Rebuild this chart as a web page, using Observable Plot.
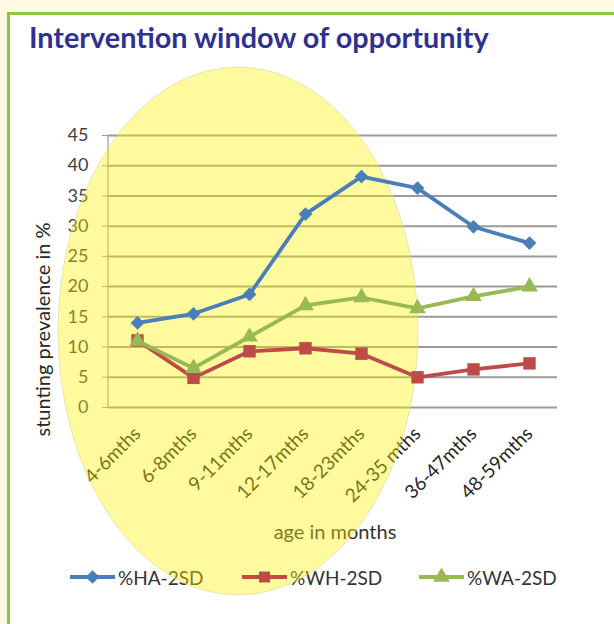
<!DOCTYPE html>
<html>
<head>
<meta charset="utf-8">
<script src="https://cdn.jsdelivr.net/npm/d3@7"></script>
<script src="https://cdn.jsdelivr.net/npm/@observablehq/plot@0.6"></script>
<style>
  html, body { margin: 0; padding: 0; }
  body { width: 614px; height: 624px; overflow: hidden; background: #fefbe2; font-family: Lato, "Open Sans", sans-serif; }
  #wrap { position: relative; width: 614px; height: 624px; }
  #box { position: absolute; left: 7px; top: 12px; width: 640px; height: 660px; background: #fff;
         border-left: 3px solid #8cc63f; border-top: 3px solid #8cc63f; box-sizing: border-box; }
  #title { position: absolute; left: 29px; top: 23px; font: bold 28.8px/1 Lato, sans-serif; color: #2e3192; white-space: nowrap; }
  #chart { position: absolute; left: 0; top: 60px; z-index: 1; }
  .legend { position: absolute; left: 0; top: 565px; width: 614px; height: 24px; }
  .legend.text { z-index: 0; }
  .legend.swatches { z-index: 2; }
  .item { position: absolute; top: 0; height: 24px; display: flex; align-items: center; }
  .item svg { display: block; }
  .item span { font-size: 19px; color: #333; margin-left: 3px; }
  .legend.text svg { visibility: hidden; }
  .legend.swatches span { visibility: hidden; }
</style>
</head>
<body>
<div id="wrap">
  <div id="box"></div>
  <div id="title">Intervention window of opportunity</div>
  <div id="chart"></div>
</div>
<script>
// ---- data ----
const categories = ["4-6mths", "6-8mths", "9-11mths", "12-17mths", "18-23mths", "24-35 mths", "36-47mths", "48-59mths"];
const seriesNames = ["%HA-2SD", "%WH-2SD", "%WA-2SD"];
const haValues = [14.0, 15.5, 18.7, 32.0, 38.2, 36.3, 29.9, 27.2];
const whValues = [11.1, 4.9, 9.3, 9.8, 8.9, 5.0, 6.3, 7.3];
const waValues = [11.0, 6.5, 11.7, 16.9, 18.2, 16.4, 18.4, 20.0];
const seriesColors = ["#4a7ebb", "#be4b48", "#98b954"];
const seriesSymbols = ["diamond2", "square", "triangle"];
const markerRadius = [6.2, 7.0, 6.2];
const yTicks = [0, 5, 10, 15, 20, 25, 30, 35, 40, 45];
const yLabel = "stunting prevalence in %";
const xLabel = "age in months";

const rows = [];
[haValues, whValues, waValues].forEach((vals, s) =>
  vals.forEach((v, i) => rows.push({age: categories[i], value: v, series: seriesNames[s]})));

// decorative "window of opportunity" ellipse (placed relative to the frame), plus the y axis line
function windowEllipse(index, scales, values, dimensions) {
  const {marginLeft, marginTop, marginBottom, height} = dimensions;
  const g = d3.create("svg:g");
  g.append("line")
    .attr("x1", marginLeft).attr("x2", marginLeft)
    .attr("y1", marginTop).attr("y2", height - marginBottom)
    .attr("stroke", "#9a9a9a").attr("stroke-width", 1.2);
  g.append("ellipse")
    .attr("cx", marginLeft + 130).attr("cy", marginTop + 196)
    .attr("rx", 180).attr("ry", 264)
    .attr("fill", "#fff200").attr("fill-opacity", 0.38)
    .attr("stroke", "#d8d4a8").attr("stroke-opacity", 0.6).attr("stroke-width", 1);
  return g.node();
}

const chart = Plot.plot({
  width: 614,
  height: 560,
  marginLeft: 108,
  marginRight: 57,
  marginTop: 75,
  marginBottom: 213,
  style: {background: "transparent", fontFamily: "Lato, sans-serif", fontSize: "16px", color: "#404040"},
  x: {type: "point", domain: categories, padding: 0.5, label: null},
  y: {domain: [0, 45], label: null},
  color: {domain: seriesNames, range: seriesColors},
  symbol: {domain: seriesNames, range: seriesSymbols},
  marks: [
    Plot.ruleY(yTicks, {stroke: "#9a9a9a", strokeWidth: 2}),
    Plot.axisY({ticks: yTicks, tickSize: 6, tickPadding: 14, stroke: "#9a9a9a", fill: "#404040", fontSize: 18}),
    Plot.axisX({tickSize: 0, tickRotate: -45, tickPadding: 23, fill: "#262626", fontSize: 19}),
    Plot.text([yLabel], {frameAnchor: "left", rotate: -90, textAnchor: "middle", lineAnchor: "middle", dx: -65, dy: 58, fontSize: 20, fill: "#262626"}),
    Plot.text([xLabel], {frameAnchor: "bottom", textAnchor: "middle", lineAnchor: "middle", dx: 2, dy: 125, fontSize: 20, fill: "#333"}),
    windowEllipse,
    Plot.line(rows, {x: "age", y: "value", z: "series", stroke: "series", strokeWidth: 3.8}),
    ...seriesNames.map((name, s) =>
      Plot.dot(rows.filter(d => d.series === name), {x: "age", y: "value", fill: "series", symbol: "series", r: markerRadius[s]}))
  ]
});
document.getElementById("chart").appendChild(chart);

// legend (text under the ellipse layer, swatches above it)
const legendLeft = [70, 242, 419];
function buildLegend(cls) {
  const div = document.createElement("div");
  div.className = "legend " + cls;
  seriesNames.forEach((name, i) => {
    const item = document.createElement("div");
    item.className = "item";
    item.style.left = legendLeft[i] + "px";
    const svg = d3.create("svg").attr("width", 45).attr("height", 24);
    svg.append("line").attr("x1", 0).attr("x2", 45).attr("y1", 12).attr("y2", 12)
      .attr("stroke", seriesColors[i]).attr("stroke-width", 4);
    const sym = [d3.symbolDiamond2, d3.symbolSquare, d3.symbolTriangle][i];
    svg.append("path").attr("transform", "translate(22.5,12)")
      .attr("d", d3.symbol(sym, 120)()).attr("fill", seriesColors[i]);
    item.appendChild(svg.node());
    const span = document.createElement("span");
    span.textContent = name;
    item.appendChild(span);
    div.appendChild(item);
  });
  document.getElementById("wrap").appendChild(div);
}
buildLegend("text");
buildLegend("swatches");
</script>
</body>
</html>
